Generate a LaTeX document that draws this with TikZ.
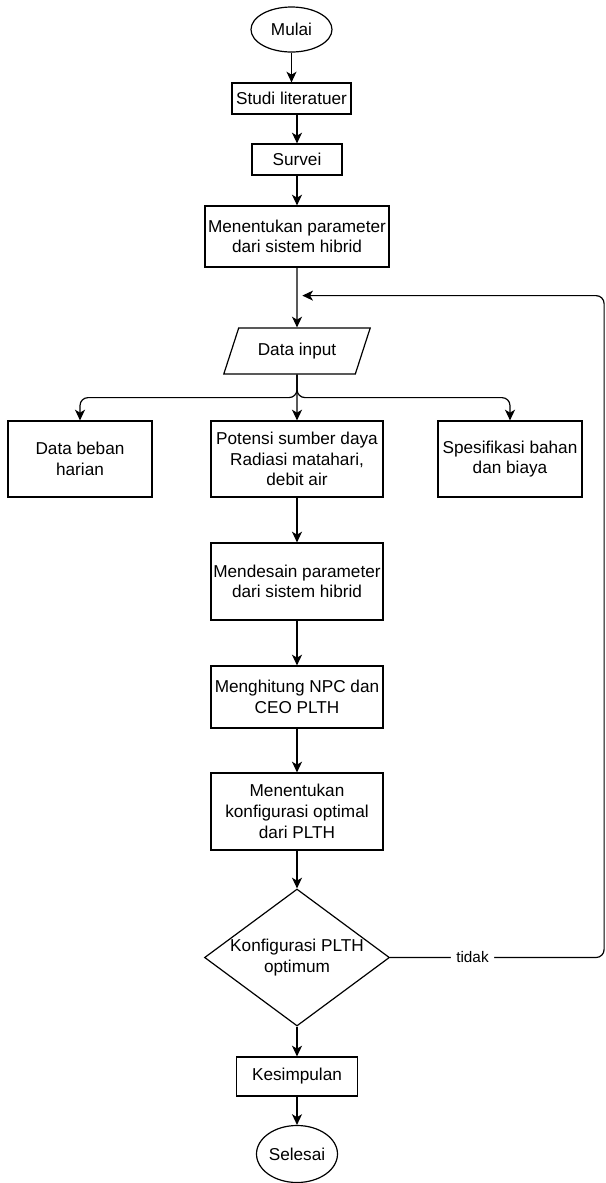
\documentclass[tikz,border=0pt]{standalone}
\usepackage{fontspec}
\setmainfont{Liberation Sans}
\usetikzlibrary{positioning,shapes.geometric,arrows.meta}
\tikzset{
  >={Stealth[length=8pt, width=7.5pt, inset=2.2pt]},
  every node/.style={font=\fontsize{12.9}{15.5}\selectfont},
  langkah/.style={draw, rectangle, align=center, inner sep=0pt, minimum width=129pt},
  terminal/.style={draw, ellipse, inner sep=0pt, minimum width=60.75pt, minimum height=33.75pt},
  masukan/.style={draw, trapezium, trapezium left angle=58, trapezium right angle=122,
    trapezium stretches=true, inner sep=0pt, minimum width=110.25pt, minimum height=34.5pt},
  keputusan/.style={draw, diamond, inner sep=0pt, minimum width=138.75pt, minimum height=102.75pt},
}

\begin{document}
\begin{tikzpicture}[x=0.75pt, y=-0.75pt, on grid, line width=0.9pt]
  \useasboundingbox (0,0) rectangle (606,1183);

  \node[terminal] (mulai) at (291.5,29.5) {Mulai};
  \node[langkah, below=51.75pt of mulai, minimum width=89.25pt, minimum height=23.25pt] (studi) {Studi literatuer};
  \node[langkah, below=45.75pt of studi, xshift=4.125pt, minimum width=67.5pt, minimum height=23.25pt] (survei) {Survei};
  \node[langkah, below=57.75pt of survei, minimum width=138pt, minimum height=45.75pt] (parameter) {Menentukan parameter\\dari sistem hibrid};
  \node[masukan, below=85.875pt of parameter] (input) {Data input};

  \node[langkah, below=81pt of input, minimum height=57pt] (potensi) {Potensi sumber daya\\Radiasi matahari,\\debit air};
  \node[langkah, left=162.75pt of potensi, minimum width=108pt, minimum height=57pt] (beban) {Data beban\\harian};
  \node[langkah, right=159.75pt of potensi, minimum width=108pt, minimum height=57pt] (spesifikasi) {Spesifikasi bahan\\dan biaya};

  \node[langkah, below=91.875pt of potensi, minimum height=57.75pt] (desain) {Mendesain parameter\\dari sistem hibrid};
  \node[langkah, below=86.625pt of desain, minimum height=46.5pt] (hitung) {Menghitung NPC dan\\CEO PLTH};
  \node[langkah, below=85.875pt of hitung, minimum height=57.75pt] (konfigurasi) {Menentukan\\konfigurasi optimal\\dari PLTH};
  \node[keputusan, below=109.5pt of konfigurasi, label={[align=center]center:Konfigurasi PLTH\\optimum}] (cek) {};
  \node[langkah, below=89.25pt of cek, minimum width=90.75pt, minimum height=29.25pt] (simpulan) {Kesimpulan};
  \node[terminal, below=58.125pt of simpulan, minimum height=42.75pt] (selesai) {Selesai};

  \coordinate[below right=21pt and 4pt of parameter.south] (gabung);

  \path[->]
    (mulai) edge (studi)
    (studi.south -| survei.north) edge (survei.north)
    (survei) edge (parameter)
    (parameter) edge (input)
    (input) edge (potensi)
    (potensi) edge (desain)
    (desain) edge (hitung)
    (hitung) edge (konfigurasi)
    (konfigurasi) edge (cek)
    (cek) edge (simpulan)
    (simpulan) edge (selesai);

  % cabang data input
  \draw[->, rounded corners=6pt] (input.south) -- ++(0,-17.25pt) -| (beban.north);
  \draw[->, rounded corners=6pt] (input.south) -- ++(0,-17.25pt) -| (spesifikasi.north);

  % kembali ke data input
  \draw[->, rounded corners=6pt] (cek.east)
    -- node[pos=0.385, fill=white, inner xsep=4pt, font=\fontsize{11.5}{13}\selectfont] {tidak} ++(160.5pt,0)
    |- (gabung);
\end{tikzpicture}
\end{document}
